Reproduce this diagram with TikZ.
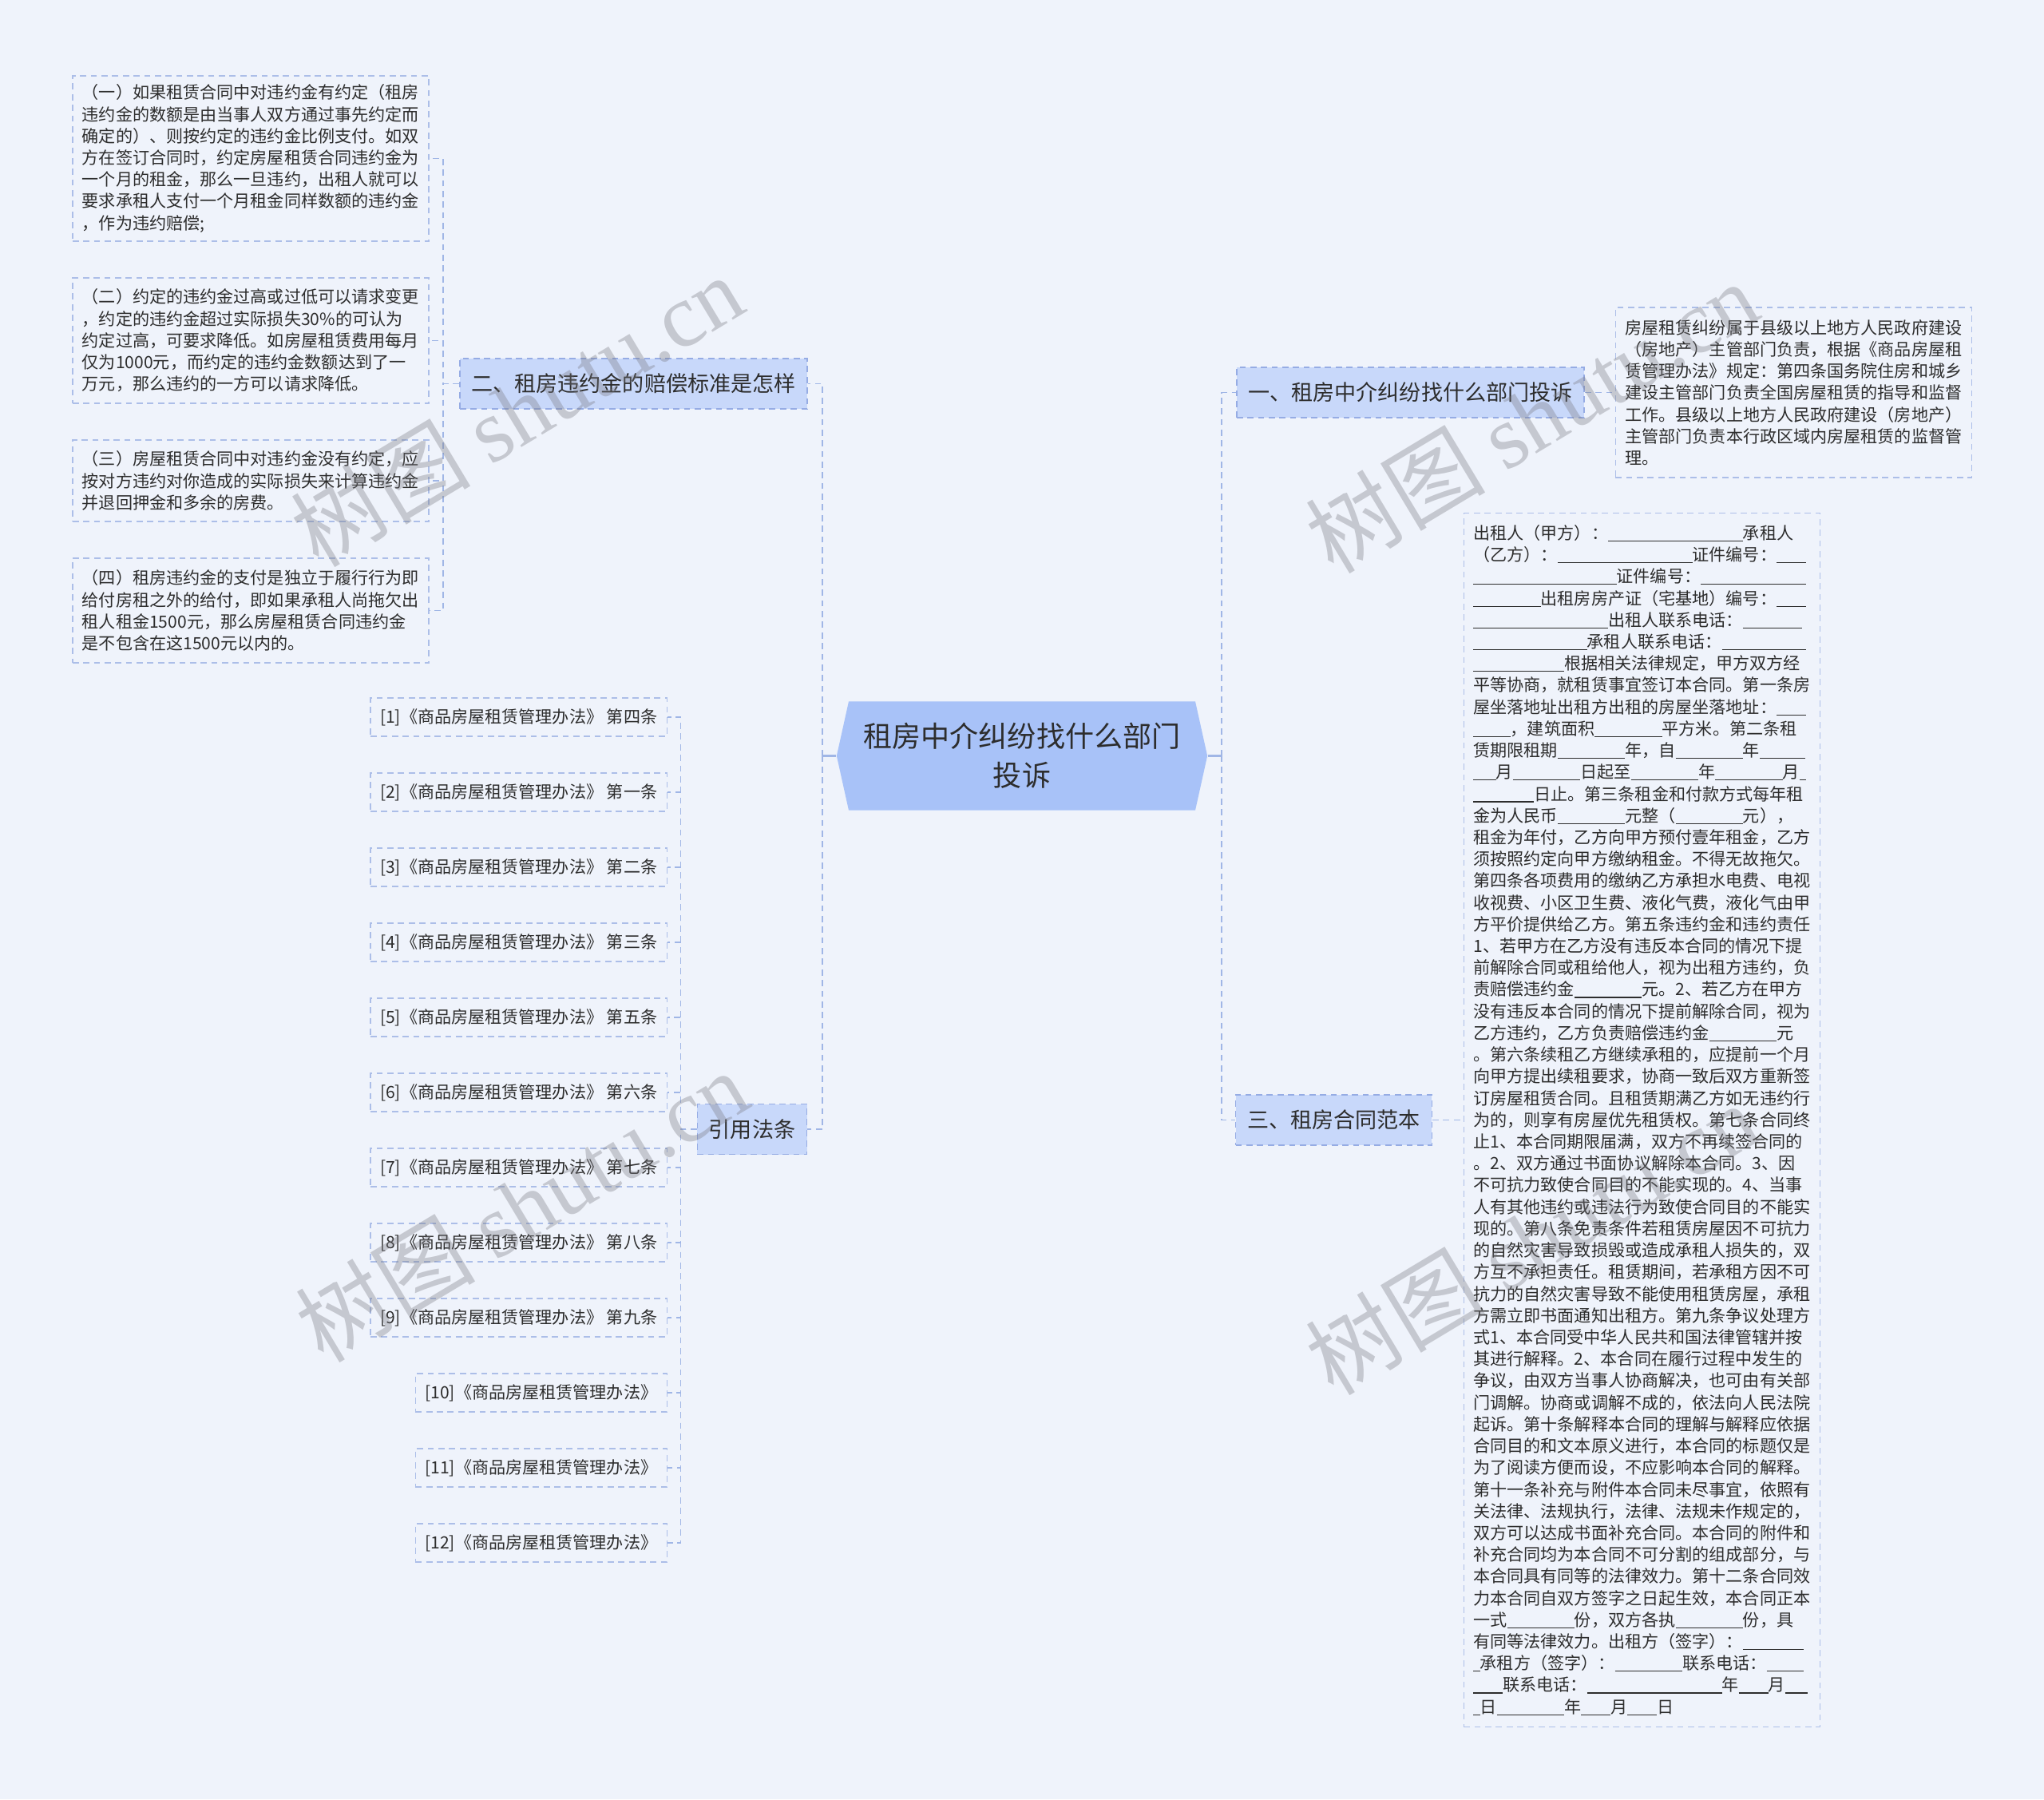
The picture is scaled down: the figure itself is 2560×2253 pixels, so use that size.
\documentclass[tikz,border=0pt]{standalone}
\usepackage{fontspec}
\setmainfont{Noto Sans CJK SC}
\newfontfamily\marklatin{Liberation Serif}
\usetikzlibrary{positioning,shapes.symbols}
\definecolor{pagebg}{RGB}{239,243,251}
\definecolor{rootfill}{RGB}{168,194,248}
\definecolor{branchfill}{RGB}{200,216,250}
\definecolor{branchline}{RGB}{150,172,228}
\definecolor{linkline}{RGB}{160,182,230}
\definecolor{leafline}{RGB}{172,190,232}
\definecolor{inktext}{RGB}{45,45,45}
\definecolor{markgray}{RGB}{120,120,128}
\newcommand{\fillgap}[1]{\rule[-0.12em]{#1em}{0.05em}}
\tikzset{
  mmlink/.style={draw=linkline, line width=0.45pt, dash pattern=on 2.2pt off 1.6pt},
  mmstub/.style={draw=linkline, line width=0.7pt},
  mmleaf/.style={draw=leafline, line width=0.4pt, dash pattern=on 2.2pt off 1.6pt, align=left, text=inktext, font=\fontsize{6pt}{7.74pt}\selectfont, inner xsep=0.12cm, inner ysep=0.05cm},
}

\begin{document}
\begin{tikzpicture}[
  x=0.01cm, y=-0.01cm,
  rootnode/.style={signal, signal to=west and east, signal pointer angle=155, fill=rootfill, text=inktext, font=\fontsize{10.25pt}{13.9pt}\selectfont, align=center, minimum width=4.64cm, minimum height=1.36cm, inner sep=0pt},
  branch/.style={draw=branchline, fill=branchfill, line width=0.45pt, dash pattern=on 2.2pt off 1.6pt, text=inktext, font=\fontsize{7.7pt}{9pt}\selectfont, minimum height=0.63cm, inner xsep=0.145cm},
  leaftext/.style={mmleaf, text width=4.22cm},
  refbox/.style={mmleaf, anchor=east, minimum height=0.48cm},
  watermark/.style={text=markgray, opacity=0.35, rotate=31, font=\fontsize{32pt}{34pt}\selectfont, inner sep=0pt},
]
  \useasboundingbox (0,0) rectangle (2560,2253);
  \fill[pagebg] (0,0) rectangle (2560,2253);

  \node[rootnode] (root) at (1280,946.5) {租房中介纠纷找什么部门\\投诉};

  \node[branch] (b1) at (1766.5,491.5) {一、租房中介纠纷找什么部门投诉};
  \node[branch] (b2) at (793.5,480.5) {二、租房违约金的赔偿标准是怎样};
  \node[branch] (b3) at (1670.5,1402.5) {三、租房合同范本};
  \node[branch] (b4) at (942,1414) {引用法条};

  \node[leaftext, minimum height=2.13cm] (s1) at (2246.5,491.5) {房屋租赁纠纷属于县级以上地方人民政府建设\\（房地产）主管部门负责，根据《商品房屋租\\赁管理办法》规定：第四条国务院住房和城乡\\建设主管部门负责全国房屋租赁的指导和监督\\工作。县级以上地方人民政府建设（房地产）\\主管部门负责本行政区域内房屋租赁的监督管\\理。};

  \node[leaftext, minimum height=2.07cm] (p1) at (314,198.5) {（一）如果租赁合同中对违约金有约定（租房\\违约金的数额是由当事人双方通过事先约定而\\确定的）、则按约定的违约金比例支付。如双\\方在签订合同时，约定房屋租赁合同违约金为\\一个月的租金，那么一旦违约，出租人就可以\\要求承租人支付一个月租金同样数额的违约金\\，作为违约赔偿;};
  \node[leaftext, minimum height=1.57cm] (p2) at (314,426.5) {（二）约定的违约金过高或过低可以请求变更\\，约定的违约金超过实际损失30\%的可认为\\约定过高，可要求降低。如房屋租赁费用每月\\仅为1000元，而约定的违约金数额达到了一\\万元，那么违约的一方可以请求降低。};
  \node[leaftext, minimum height=1.02cm] (p3) at (314,602) {（三）房屋租赁合同中对违约金没有约定，应\\按对方违约对你造成的实际损失来计算违约金\\并退回押金和多余的房费。};
  \node[leaftext, minimum height=1.31cm] (p4) at (314,764.5) {（四）租房违约金的支付是独立于履行行为即\\给付房租之外的给付，即如果承租人尚拖欠出\\租人租金1500元，那么房屋租赁合同违约金\\是不包含在这1500元以内的。};

  \node[leaftext, minimum height=15.19cm] (s3) at (2056.5,1402.5) {出租人（甲方）：\fillgap{8}承租人\\（乙方）：\fillgap{8}证件编号：\fillgap{1.75}\\\fillgap{8.5}证件编号：\fillgap{6.25}\\\fillgap{4}出租房房产证（宅基地）编号：\fillgap{1.75}\\\fillgap{8}出租人联系电话：\fillgap{3.5}\\\fillgap{6.75}承租人联系电话：\fillgap{5}\\\fillgap{5.4}根据相关法律规定，甲方双方经\\平等协商，就租赁事宜签订本合同。第一条房\\屋坐落地址出租方出租的房屋坐落地址：\fillgap{1.75}\\\fillgap{2.2}，建筑面积\fillgap{4}平方米。第二条租\\赁期限租期\fillgap{4}年，自\fillgap{4}年\fillgap{2.7}\\\fillgap{1.35}月\fillgap{4}日起至\fillgap{4}年\fillgap{4}月\fillgap{0.4}\\\fillgap{3.6}日止。第三条租金和付款方式每年租\\金为人民币\fillgap{4}元整（\fillgap{4}元），\\租金为年付，乙方向甲方预付壹年租金，乙方\\须按照约定向甲方缴纳租金。不得无故拖欠。\\第四条各项费用的缴纳乙方承担水电费、电视\\收视费、小区卫生费、液化气费，液化气由甲\\方平价提供给乙方。第五条违约金和违约责任\\1、若甲方在乙方没有违反本合同的情况下提\\前解除合同或租给他人，视为出租方违约，负\\责赔偿违约金\fillgap{4}元。2、若乙方在甲方\\没有违反本合同的情况下提前解除合同，视为\\乙方违约，乙方负责赔偿违约金\fillgap{4}元\\。第六条续租乙方继续承租的，应提前一个月\\向甲方提出续租要求，协商一致后双方重新签\\订房屋租赁合同。且租赁期满乙方如无违约行\\为的，则享有房屋优先租赁权。第七条合同终\\止1、本合同期限届满，双方不再续签合同的\\。2、双方通过书面协议解除本合同。3、因\\不可抗力致使合同目的不能实现的。4、当事\\人有其他违约或违法行为致使合同目的不能实\\现的。第八条免责条件若租赁房屋因不可抗力\\的自然灾害导致损毁或造成承租人损失的，双\\方互不承担责任。租赁期间，若承租方因不可\\抗力的自然灾害导致不能使用租赁房屋，承租\\方需立即书面通知出租方。第九条争议处理方\\式1、本合同受中华人民共和国法律管辖并按\\其进行解释。2、本合同在履行过程中发生的\\争议，由双方当事人协商解决，也可由有关部\\门调解。协商或调解不成的，依法向人民法院\\起诉。第十条解释本合同的理解与解释应依据\\合同目的和文本原义进行，本合同的标题仅是\\为了阅读方便而设，不应影响本合同的解释。\\第十一条补充与附件本合同未尽事宜，依照有\\关法律、法规执行，法律、法规未作规定的，\\双方可以达成书面补充合同。本合同的附件和\\补充合同均为本合同不可分割的组成部分，与\\本合同具有同等的法律效力。第十二条合同效\\力本合同自双方签字之日起生效，本合同正本\\一式\fillgap{4}份，双方各执\fillgap{4}份，具\\有同等法律效力。出租方（签字）：\fillgap{3.6}\\\fillgap{0.4}承租方（签字）：\fillgap{4}联系电话：\fillgap{2.2}\\\fillgap{1.75}联系电话：\fillgap{8}年\fillgap{1.75}月\fillgap{1.35}\\\fillgap{0.4}日\fillgap{4}年\fillgap{1.75}月\fillgap{1.75}日};

  \node[refbox] (r1) at (836,898) {[1]《商品房屋租赁管理办法》 第四条};
  \node[refbox] (r2) at (836,992) {[2]《商品房屋租赁管理办法》 第一条};
  \node[refbox] (r3) at (836,1086) {[3]《商品房屋租赁管理办法》 第二条};
  \node[refbox] (r4) at (836,1180) {[4]《商品房屋租赁管理办法》 第三条};
  \node[refbox] (r5) at (836,1274) {[5]《商品房屋租赁管理办法》 第五条};
  \node[refbox] (r6) at (836,1368) {[6]《商品房屋租赁管理办法》 第六条};
  \node[refbox] (r7) at (836,1462) {[7]《商品房屋租赁管理办法》 第七条};
  \node[refbox] (r8) at (836,1556) {[8]《商品房屋租赁管理办法》 第八条};
  \node[refbox] (r9) at (836,1650) {[9]《商品房屋租赁管理办法》 第九条};
  \node[refbox] (r10) at (836,1744) {[10]《商品房屋租赁管理办法》};
  \node[refbox] (r11) at (836,1838) {[11]《商品房屋租赁管理办法》};
  \node[refbox] (r12) at (836,1932) {[12]《商品房屋租赁管理办法》};

  \coordinate (ltrunk) at (1030,946.5);
  \coordinate (rtrunk) at (1530,946.5);
  \draw[mmstub] (root.west) -- (ltrunk);
  \draw[mmstub] (root.east) -- (rtrunk);
  \foreach \b in {b2,b4}
    \draw[mmlink] (ltrunk) |- (\b.east);
  \foreach \b in {b1,b3}
    \draw[mmlink] (rtrunk) |- (\b.west);
  \draw[mmlink] (b1.east) -- (s1.west);
  \draw[mmlink] (b3.east) -- (s3.west);
  \foreach \n in {p1,p2,p3,p4}
    \draw[mmlink] (b2.west) -- ++(-20,0) |- (\n.east);
  \foreach \i in {1,...,12}
    \draw[mmlink] (b4.west) -- ++(-20,0) |- (r\i.east);

  \node[watermark] (wm1) at (647,514) {树图 {\marklatin shutu.cn}};
  \node[watermark] (wm2) at (653,1510) {树图 {\marklatin shutu.cn}};
  \node[watermark] (wm3) at (1918,522) {树图 {\marklatin shutu.cn}};
  \node[watermark] (wm4) at (1918,1551) {树图 {\marklatin shutu.cn}};
\end{tikzpicture}
\end{document}
